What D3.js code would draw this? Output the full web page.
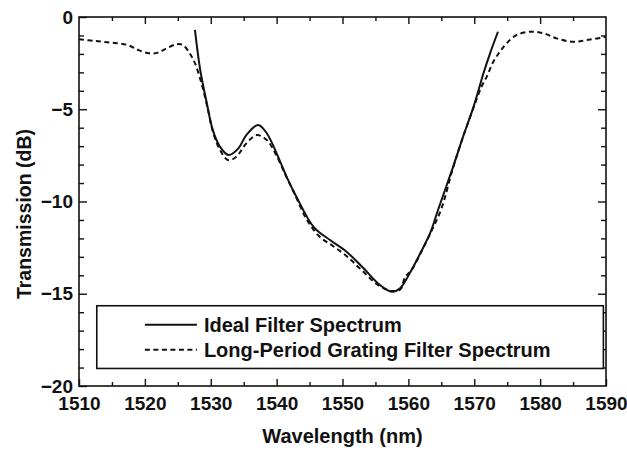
<!DOCTYPE html>
<html>
<head>
<meta charset="utf-8">
<script src="https://cdn.jsdelivr.net/npm/d3@7"></script>
<style>
  html, body { margin: 0; padding: 0; background: #fff; }
  svg { display: block; }
  text { font-family: "Liberation Sans", Arial, Helvetica, sans-serif; font-weight: bold; fill: #111; }
</style>
</head>
<body>
<svg id="chart" width="627" height="453"></svg>
<script>
// Ideal filter response (wavelength in nm, transmission in dB)
const idealWavelength = [1527.6, 1528.4, 1529.4, 1530.3, 1531.4, 1532.7, 1534.2, 1535.4, 1537.2, 1538.5,
  1540.0, 1541.5, 1543.0, 1545.6, 1548.1, 1550.6, 1553.2, 1555.7, 1557.5, 1558.7,
  1560.2, 1561.8, 1563.3, 1564.5, 1566.8, 1568.3, 1569.9, 1571.4, 1572.4, 1573.6];
const idealTransmission = [-0.7, -2.87, -4.66, -6.12, -7.03, -7.48, -7.12, -6.4, -5.85, -6.3,
  -7.39, -8.65, -9.74, -11.37, -12.09, -12.72, -13.62, -14.53, -14.89, -14.71,
  -13.89, -12.81, -11.72, -10.46, -8.11, -6.49, -4.86, -3.05, -1.97, -0.8];

// Long-period grating filter response
const lpgWavelength = [1510, 1512.4, 1514.9, 1517.4, 1519.0, 1520.7, 1522.0, 1523.3, 1524.8, 1525.8,
  1526.8, 1527.6, 1528.6, 1529.5, 1530.4, 1531.4, 1532.6, 1533.8, 1535.4, 1537.0,
  1538.5, 1539.8, 1541.4, 1543.0, 1544.6, 1546.5, 1548.5, 1550.6, 1553.0, 1555.5,
  1557.5, 1558.8, 1559.5, 1560.5, 1562, 1563.5, 1565, 1566.8, 1568.3, 1569.9,
  1571.1, 1571.9, 1572.9, 1573.9, 1574.9, 1576.4, 1578.5, 1580.5, 1582.5, 1585.0,
  1587.1, 1590];
const lpgTransmission = [-1.2, -1.3, -1.39, -1.52, -1.79, -1.97, -1.93, -1.70, -1.48, -1.52,
  -1.97, -2.5, -3.6, -4.9, -6.3, -7.2, -7.75, -7.6, -6.85, -6.4,
  -6.67, -7.39, -8.6, -9.8, -11.0, -11.9, -12.4, -12.95, -13.75, -14.55,
  -14.85, -14.75, -14.1, -13.7, -12.7, -11.6, -10.4, -8.15, -6.5, -4.9,
  -3.78, -3.23, -2.42, -1.88, -1.43, -0.98, -0.8, -0.88, -1.16, -1.34,
  -1.25, -1.08];

// Axis ticks
const xMajorTicks = [1510, 1520, 1530, 1540, 1550, 1560, 1570, 1580, 1590];
const xMinorTicks = [1515, 1525, 1535, 1545, 1555, 1565, 1575, 1585];
const yMajorTicks = [0, -5, -10, -15, -20];
const yMinorTicks = [-1, -2, -3, -4, -6, -7, -8, -9, -11, -12, -13, -14, -16, -17, -18, -19];

const seriesNames = ["Ideal Filter Spectrum", "Long-Period Grating Filter Spectrum"];
const xTitle = "Wavelength (nm)";
const yTitle = "Transmission (dB)";

const W = 627, H = 453;
const margin = { top: 17, right: 21, bottom: 67, left: 79 };
const iw = W - margin.left - margin.right;
const ih = H - margin.top - margin.bottom;

const svg = d3.select("#chart");
const g = svg.append("g").attr("transform", `translate(${margin.left},${margin.top})`);

const x = d3.scaleLinear().domain([1510, 1590]).range([0, iw]);
const y = d3.scaleLinear().domain([-20, 0]).range([ih, 0]);

const ink = "#111";
const dashPattern = "5,3.5";

// Frame
g.append("rect").attr("x", 0).attr("y", 0).attr("width", iw).attr("height", ih)
  .attr("fill", "none").attr("stroke", ink).attr("stroke-width", 1.6);

function styleAxis(sel) {
  sel.select(".domain").remove();
  sel.selectAll(".tick line").attr("stroke", ink).attr("stroke-width", 1.4);
  sel.selectAll(".tick text").style("font-size", "19px").attr("fill", ink);
}

// Bottom axis: labelled major ticks, unlabelled minor ticks, all pointing inward
g.append("g").attr("transform", `translate(0,${ih})`)
  .call(d3.axisBottom(x).tickValues(xMajorTicks).tickSizeInner(-7).tickSizeOuter(0).tickPadding(11).tickFormat(d3.format("d")))
  .call(styleAxis);
g.append("g").attr("transform", `translate(0,${ih})`)
  .call(d3.axisBottom(x).tickValues(xMinorTicks).tickSizeInner(-4).tickSizeOuter(0).tickFormat(""))
  .call(styleAxis);

// Top axis
g.append("g")
  .call(d3.axisTop(x).tickValues(xMajorTicks.slice(1, -1)).tickSizeInner(-7).tickSizeOuter(0).tickFormat(""))
  .call(styleAxis);
g.append("g")
  .call(d3.axisTop(x).tickValues(xMinorTicks).tickSizeInner(-4).tickSizeOuter(0).tickFormat(""))
  .call(styleAxis);

// Left axis
g.append("g")
  .call(d3.axisLeft(y).tickValues(yMajorTicks).tickSizeInner(-8).tickSizeOuter(0).tickPadding(6).tickFormat(d3.format("d")))
  .call(styleAxis);
g.append("g")
  .call(d3.axisLeft(y).tickValues(yMinorTicks).tickSizeInner(-5).tickSizeOuter(0).tickFormat(""))
  .call(styleAxis);

// Right axis
g.append("g").attr("transform", `translate(${iw},0)`)
  .call(d3.axisRight(y).tickValues(yMajorTicks.slice(1, -1)).tickSizeInner(-8).tickSizeOuter(0).tickFormat(""))
  .call(styleAxis);
g.append("g").attr("transform", `translate(${iw},0)`)
  .call(d3.axisRight(y).tickValues(yMinorTicks).tickSizeInner(-5).tickSizeOuter(0).tickFormat(""))
  .call(styleAxis);

// Curves
const line = d3.line()
  .x(d => x(d[0]))
  .y(d => y(d[1]))
  .curve(d3.curveCatmullRom.alpha(0.5));

const idealData = d3.zip(idealWavelength, idealTransmission);
const lpgData = d3.zip(lpgWavelength, lpgTransmission);

g.append("path").datum(lpgData).attr("d", line)
  .attr("fill", "none").attr("stroke", ink).attr("stroke-width", 2)
  .attr("stroke-dasharray", dashPattern);

g.append("path").datum(idealData).attr("d", line)
  .attr("fill", "none").attr("stroke", ink).attr("stroke-width", 2);

// Legend
const legend = g.append("g");
legend.append("rect")
  .attr("x", x(1512.7)).attr("y", y(-15.65))
  .attr("width", x(1589.6) - x(1512.7)).attr("height", y(-19.05) - y(-15.65))
  .attr("fill", "#fff").attr("stroke", ink).attr("stroke-width", 1.6);

const rows = [
  { name: seriesNames[0], dash: null, v: -16.68 },
  { name: seriesNames[1], dash: dashPattern, v: -18.03 }
];
const sampleX0 = x(1520.0), sampleX1 = x(1527.9);
rows.forEach(r => {
  legend.append("line")
    .attr("x1", sampleX0).attr("x2", sampleX1)
    .attr("y1", y(r.v)).attr("y2", y(r.v))
    .attr("stroke", ink).attr("stroke-width", 2)
    .attr("stroke-dasharray", r.dash);
  legend.append("text")
    .attr("x", sampleX1 + 7).attr("y", y(r.v))
    .attr("dy", "0.36em")
    .style("font-size", "20px")
    .text(r.name);
});

// Axis titles
svg.append("text")
  .attr("x", margin.left + iw / 2).attr("y", 443)
  .attr("text-anchor", "middle")
  .style("font-size", "20px")
  .text(xTitle);

svg.append("text")
  .attr("transform", `translate(31,214) rotate(-90)`)
  .attr("text-anchor", "middle")
  .style("font-size", "19.5px")
  .text(yTitle);
</script>
</body>
</html>
